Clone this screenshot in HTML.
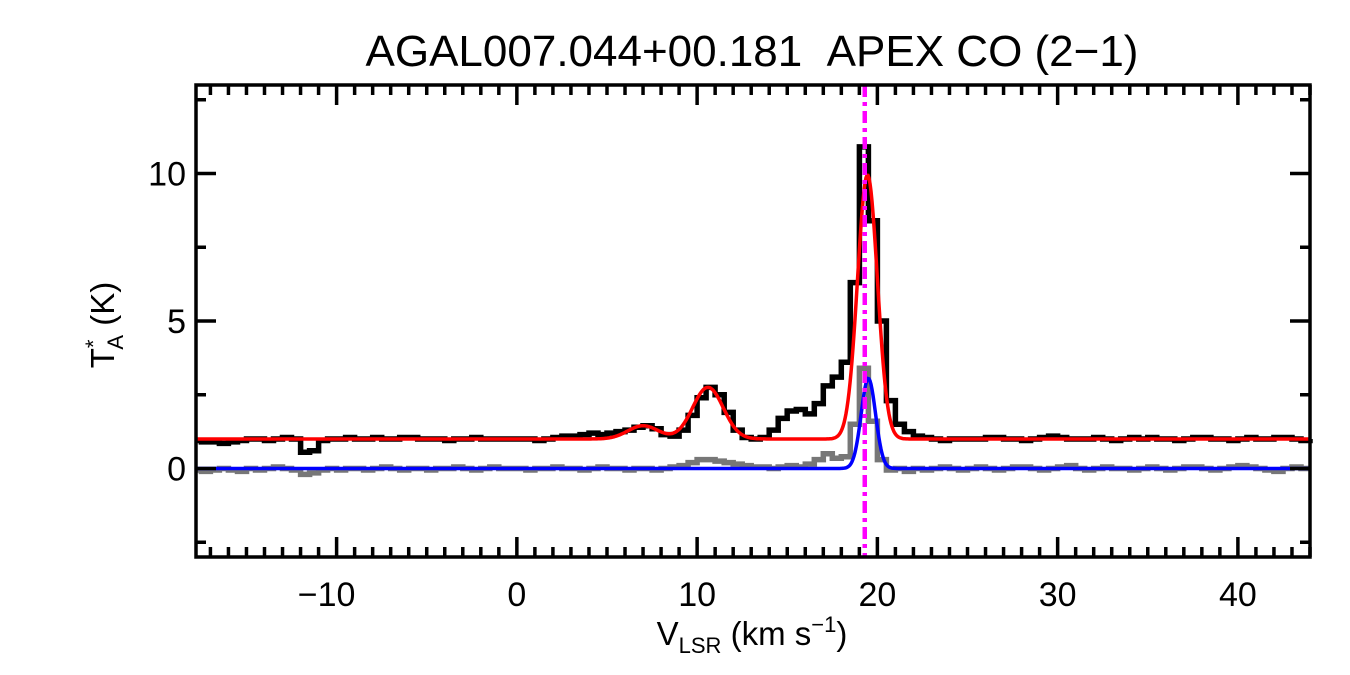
<!DOCTYPE html>
<html><head><meta charset="utf-8"><style>
html,body{margin:0;padding:0;background:#fff;}
svg{display:block;font-family:"Liberation Sans",Arial,sans-serif;}
</style></head><body>
<svg id="chart" width="1350" height="675" viewBox="0 0 1350 675" xmlns="http://www.w3.org/2000/svg">
<text x="752" y="66" font-size="44" text-anchor="middle">AGAL007.044+00.181&#160;&#160;APEX CO (2−1)</text>
<g id="series"></g>
<g id="axes"></g>
<text x="752" y="645" font-size="33" text-anchor="middle">V<tspan font-size="22" dy="8">LSR</tspan><tspan dy="-8"> (km s</tspan><tspan font-size="22" dy="-13">−1</tspan><tspan dy="13">)</tspan></text>
<text transform="translate(114,325) rotate(-90)" font-size="33" text-anchor="middle">T<tspan font-size="22" dy="-13">*</tspan><tspan font-size="22" dx="-10" dy="22">A</tspan><tspan dy="-9"> (K)</tspan></text>
</svg>
<script>
const vStart = -17.75, vStep = 0.5;
const coTa = [0.95,0.9,0.9,0.85,0.9,0.95,1.0,1.0,0.95,1.0,1.05,1.0,
0.55,0.6,
0.95,1.0,1.0,1.05,1.0,1.0,1.05,1.0,1.0,1.05,1.05,1.0,1.0,1.0,0.95,1.0,1.0,1.05,1.0,1.0,1.0,1.0,
1.0,1.0,0.95,1.0,1.05,1.1,1.1,1.15,1.2,1.15,
1.2,1.25,1.3,1.4,1.45,1.35,1.15,1.1,
1.3,1.8,2.4,2.75,2.5,1.9,1.3,1.05,
1.0,1.05,1.3,1.7,1.95,2.0,1.85,2.2,
2.8,3.1,3.6,6.3,10.9,8.4,5.0,2.3,
1.5,1.25,1.1,1.05,1.0,0.95,1.0,1.0,
1.0,1.0,1.05,1.05,1.0,1.0,0.95,1.0,1.05,1.1,1.05,1.0,1.0,1.0,1.05,1.0,0.95,1.0,1.05,1.0,1.05,1.0,1.0,0.95,1.0,1.05,1.05,1.0,1.0,0.95,1.0,1.05,1.0,1.0,1.05,1.05,1.0,0.95,1.0];
const isoTa = [-0.05,-0.1,-0.05,0,-0.05,-0.1,0,-0.05,0,0.05,0,-0.05,
-0.2,-0.15,
-0.05,0,-0.05,0,0,-0.05,0,0.05,0,-0.05,0,0,-0.05,0,0,0.05,0,-0.05,0,0.05,0,0,
0,-0.05,0,0,0.05,0,0,-0.05,0,0.05,
0,0,-0.05,0,0,-0.05,0,0.05,
0.1,0.2,0.3,0.3,0.25,0.2,0.15,0.1,
0.05,0.05,0,0.05,0.1,0.05,0.15,0.3,
0.5,0.35,0.4,1.5,3.4,1.6,0.3,-0.05,
0,-0.1,0,-0.05,0,0.05,0,-0.05,
0,0.05,0,-0.05,0,0.05,0.05,0,-0.05,0,0.05,0.1,0,-0.05,0,0.05,0,0,-0.05,0,0.05,0,-0.05,0,0.05,0.05,0,-0.05,0,0.05,0.1,0.05,0,-0.05,-0.1,0,0.05,0,0];
const coFitBase = 1.0;
const coFitAmp = [0.45, 1.75, 8.95];
const coFitCen = [7.0, 10.6, 19.45];
const coFitSig = [0.85, 0.85, 0.55];
const isoFitAmp = [3.05];
const isoFitCen = [19.5];
const isoFitSig = [0.4];
const markerV = 19.3;
const xTicks = [-10,0,10,20,30,40];
const yTicks = [0,5,10];

const L=196,R=1310,T=85,B=557, xmin=-17.8,xmax=44.0,ymin=-3,ymax=13;
const X=v=>L+(v-xmin)/(xmax-xmin)*(R-L);
const Y=t=>B-(t-ymin)/(ymax-ymin)*(B-T);
const NS='http://www.w3.org/2000/svg';
const sg=document.getElementById('series'), ag=document.getElementById('axes');
function mk(tag,attrs,parent){const e=document.createElementNS(NS,tag);for(const k in attrs)e.setAttribute(k,attrs[k]);parent.appendChild(e);return e;}
function stepPath(arr){let d='';arr.forEach((t,i)=>{const v=vStart+i*vStep;const x0=Math.max(L,X(v-vStep/2)),x1=Math.min(R,X(v+vStep/2));d+=(i?'L':'M')+x0.toFixed(1)+','+Y(t).toFixed(1)+'L'+x1.toFixed(1)+','+Y(t).toFixed(1);});return d;}
function fitPath(base,A,C,S){let d='';for(let px=L;px<=R;px+=1){const v=xmin+(px-L)/(R-L)*(xmax-xmin);let t=base;for(let k=0;k<A.length;k++)t+=A[k]*Math.exp(-0.5*Math.pow((v-C[k])/S[k],2));d+=(px===L?'M':'L')+px+','+Y(t).toFixed(1);}return d;}

const g1=mk('path',{d:stepPath(isoTa),fill:'none',stroke:'#777','stroke-width':5.5},sg);


const g2=mk('path',{d:stepPath(coTa),fill:'none',stroke:'#000','stroke-width':5.5},sg);


const g3=mk('path',{d:fitPath(coFitBase,coFitAmp,coFitCen,coFitSig),fill:'none',stroke:'#ff0000','stroke-width':3.5},sg);


const g4=mk('path',{d:fitPath(0,isoFitAmp,isoFitCen,isoFitSig),fill:'none',stroke:'#0000ff','stroke-width':3.5},sg);


const g5=mk('line',{x1:X(markerV),x2:X(markerV),y1:T,y2:B,stroke:'#ff00ff','stroke-width':4.5,'stroke-dasharray':'12,5,4,5'},sg);



const fr=mk('rect',{x:L,y:T,width:R-L,height:B-T,fill:'none',stroke:'#000','stroke-width':3.5},ag);


for(let v=-17;v<=44;v++){const maj=v%10===0;const len=maj?20:10;
 const t1=mk('line',{x1:X(v),x2:X(v),y1:B,y2:B-len,stroke:'#000','stroke-width':3.5},ag);
 
 
 const t2=mk('line',{x1:X(v),x2:X(v),y1:T,y2:T+len,stroke:'#000','stroke-width':3.5},ag);
 
 }
for(let t=-2.5;t<=12.5;t+=2.5){const maj=t%5===0;const len=maj?20:10;
 const t1=mk('line',{x1:L,x2:L+len,y1:Y(t),y2:Y(t),stroke:'#000','stroke-width':3.5},ag);
 
 
 const t2=mk('line',{x1:R,x2:R-len,y1:Y(t),y2:Y(t),stroke:'#000','stroke-width':3.5},ag);
 
 }
xTicks.forEach(v=>{const e=mk('text',{x:X(v)+(v<0?-10:0),y:606,'font-size':34,'text-anchor':'middle'},ag);e.textContent=(v<0?'−':'')+Math.abs(v);
 
 });
yTicks.forEach(t=>{const e=mk('text',{x:186,y:Y(t)+12,'font-size':34,'text-anchor':'end'},ag);e.textContent=t;
 
 });
</script>
</body></html>
